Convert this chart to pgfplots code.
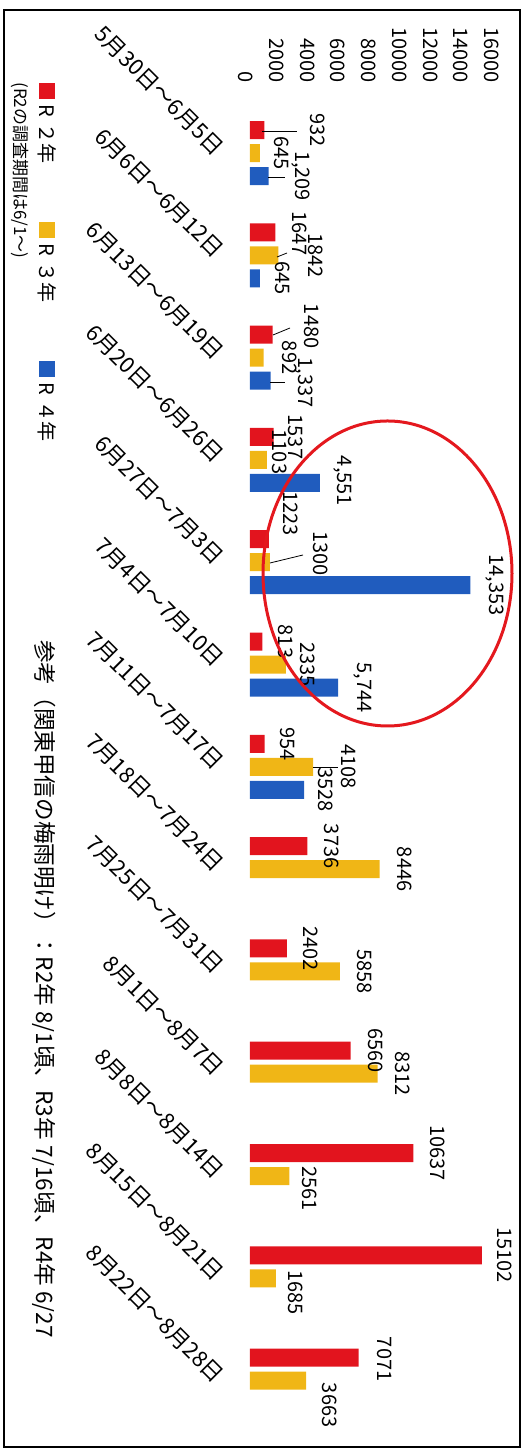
\documentclass[border=0pt]{standalone}
\usepackage{pgfplots}
\pgfplotsset{compat=1.18}
\usepackage{pgfplotstable}
\usepackage{fontspec}
\newfontfamily\jp{Noto Sans CJK JP}
\definecolor{rtwo}{RGB}{226,20,30}
\definecolor{rthree}{RGB}{240,182,22}
\definecolor{rfour}{RGB}{32,92,190}
\definecolor{ellred}{RGB}{228,24,30}

\pgfplotstableread{
y x lbl dx dy
0 932 932 22 0
1 1647 1647 7.5 -0.75
2 1480 1480 14.5 4.25
3 1537 1537 6 0
4 1223 1223 6 12.75
5 813 813 6.5 0
6 954 954 6.5 0
7 3736 3736 7 0
8 2402 2402 7 0
9 6560 6560 7.5 0
10 10637 10637 7.5 0
11 15102 15102 6.5 0
12 7071 7071 8 -0.75
}\datared

\pgfplotstableread{
y x lbl dx dy
0 645 645 6 0
1 1842 1842 14 0
2 892 892 8 0
3 1103 1103 1.5 4
4 1300 1300 20.5 4.5
5 2335 2335 6 0
6 4108 4108 13 0
7 8446 8446 7.5 0
8 5858 5858 7.5 0
9 8312 8312 7.5 0
10 2561 2561 5.5 -6.25
11 1685 1685 5 -7.25
12 3663 3663 7 -12.25
}\datayellow

\pgfplotstableread{
y x lbl dx dy
0 1209 1,209 10.5 0
1 645 645 6.5 0
2 1337 1,337 11 -1
3 4551 4,551 5.5 1
4 14353 14,353 6.5 0
5 5744 5,744 6.5 0
6 3528 3528 6 0
}\datablue

\begin{document}
\begin{tikzpicture}
\begin{axis}[
  at={(0pt,0pt)}, anchor=south west,
  scale only axis,
  width=122.8pt, height=678.25pt,
  xbar, bar width=9pt,
  xmin=0, xmax=16000,
  ymin=-0.66, ymax=12.6,
  y dir=reverse,
  clip=false,
  axis line style={draw=none},
  major tick style={draw=none},
  xtick={0,2000,...,16000},
  scaled x ticks=false,
  xticklabel pos=upper,
  xticklabel style={font=\jp\fontsize{10}{10}\selectfont, xshift=-2pt, rotate=-90, anchor=east, inner sep=1pt},
  /pgf/number format/assume math mode=true,
  /pgf/number format/1000 sep={},
  ytick={0,...,12},
  yticklabels={5月30日～6月5日,6月6日～6月12日,6月13日～6月19日,6月20日～6月26日,6月27日～7月3日,7月4日～7月10日,7月11日～7月17日,7月18日～7月24日,7月25日～7月31日,8月1日～8月7日,8月8日～8月14日,8月15日～8月21日,8月22日～8月28日},
  yticklabel style={font=\jp\fontsize{11}{11}\selectfont, xshift=-10pt, yshift=0pt, rotate=-45, anchor=east, inner sep=1pt},
  nodes near coords={\pgfplotspointmeta},
  point meta=explicit symbolic,
  visualization depends on={\thisrow{dx}\as\dx},
  visualization depends on={\thisrow{dy}\as\dy},
  nodes near coords style={font=\jp\fontsize{10}{10}\selectfont, inner sep=1pt, xshift=\dx pt, yshift=\dy pt, rotate=-90, anchor=south},
  legend columns=1,
  legend cell align=left,
  legend style={draw=none, fill=none, font=\jp\fontsize{10}{10}\selectfont,
    at={(axis description cs:-0.8632,1.0018)}, anchor=north west, inner sep=0pt,
    nodes={inner sep=0pt}, row sep=68pt, column sep=0pt},
  legend image code/.code={},
]
\addplot[fill=rtwo, draw=none, bar shift=11.5pt] table[x=x, y=y, meta=lbl]{\datared};
\addlegendentry{\rotatebox{-90}{\textcolor{rtwo}{\rule[-0.3pt]{8pt}{8pt}}\hspace{2.5pt}R\hspace{3pt}２年}}
\addplot[fill=rthree, draw=none, bar shift=0pt] table[x=x, y=y, meta=lbl]{\datayellow};
\addlegendentry{\rotatebox{-90}{\textcolor{rthree}{\rule[-0.3pt]{8pt}{8pt}}\hspace{2.5pt}R\hspace{3pt}３年}}
\addplot[fill=rfour, draw=none, bar shift=-11.5pt] table[x=x, y=y, meta=lbl]{\datablue};
\addlegendentry{\rotatebox{-90}{\textcolor{rfour}{\rule[-0.3pt]{8pt}{8pt}}\hspace{2.5pt}R\hspace{3pt}４年}}
\end{axis}
% leader lines
\begin{scope}[line width=0.4pt]
\draw (6pt,655.15pt)--(23.5pt,655.15pt);
\draw (9pt,632.5pt)--(17.5pt,632.5pt);
\draw (13.5pt,592.5pt)--(18.5pt,594.5pt);
\draw (11.5pt,553.5pt)--(20pt,557pt);
\draw (10pt,530pt)--(17.5pt,530pt);
\draw (10pt,439.5pt)--(26.5pt,443.5pt);
\draw (31.5pt,337.5pt)--(44pt,337.5pt);
\end{scope}
% red ellipse
\draw[ellred, line width=1.5pt] (68.75pt,434.25pt) ellipse [x radius=62.25pt, y radius=76.25pt];
% texts
\node[rotate=-90, anchor=west, inner sep=0pt, font=\jp\fontsize{8.5}{8.5}\selectfont] at (-115pt,680pt) {(R2の調査期間は6/1～)};
\node[rotate=-90, anchor=west, inner sep=0pt, font=\jp\fontsize{11.3}{11.3}\selectfont] at (-103pt,401pt) {参考（関東甲信の梅雨明け）：R2年 8/1頃、R3年 7/16頃、R4年 6/27};
% frame
\draw[line width=1.1pt] (-123pt,-2.5pt) rectangle (135pt,716pt);
\pgfresetboundingbox
\useasboundingbox (-125pt,-4pt) rectangle (138.5pt,721pt);
\end{tikzpicture}
\end{document}
